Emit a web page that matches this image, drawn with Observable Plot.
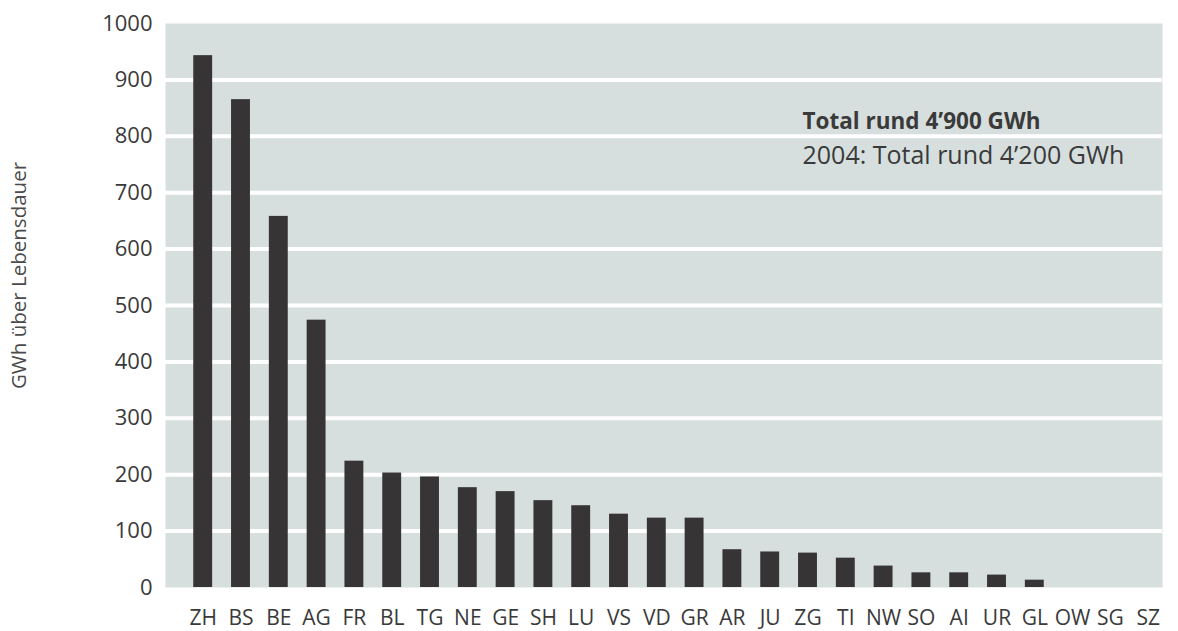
<!DOCTYPE html>
<html>
<head>
<meta charset="utf-8">
<script src="https://cdn.jsdelivr.net/npm/d3@7"></script>
<script src="https://cdn.jsdelivr.net/npm/@observablehq/plot@0.6"></script>
<style>
  html, body { margin: 0; padding: 0; background: #ffffff; }
  #chart svg { display: block; }
</style>
</head>
<body>
<div id="chart"></div>
<script>
const cantons = ["ZH","BS","BE","AG","FR","BL","TG","NE","GE","SH","LU","VS","VD","GR","AR","JU","ZG","TI","NW","SO","AI","UR","GL","OW","SG","SZ"];
const gwh = [943, 865, 658, 474, 224, 203, 196, 177, 170, 154, 145, 130, 123, 123, 67, 63, 61, 52, 38, 26, 26, 22, 13, 0, 0, 0];
const yTicks = [0, 100, 200, 300, 400, 500, 600, 700, 800, 900, 1000];
const gridTicks = [100, 200, 300, 400, 500, 600, 700, 800, 900];
const yTitle = "GWh über Lebensdauer";
const noteBold = "Total rund 4’900 GWh";
const noteRegular = "2004: Total rund 4’200 GWh";

const data = cantons.map((c, i) => ({canton: c, value: gwh[i]}));
const font = "'Open Sans', sans-serif";
const ink = "#3a3a3a";

const chart = Plot.plot({
  width: 1178,
  height: 631,
  marginLeft: 165,
  marginRight: 16,
  marginTop: 23,
  marginBottom: 44,
  style: {fontFamily: font, color: ink, background: "#ffffff"},
  x: {domain: cantons, paddingInner: 0.5, paddingOuter: 0, insetLeft: 28.25, insetRight: 4.85, round: false},
  y: {domain: [0, 1000]},
  marks: [
    Plot.frame({fill: "#d7dfde", stroke: null}),
    Plot.ruleY(gridTicks, {stroke: "#ffffff", strokeWidth: 4}),
    Plot.barY(data, {x: "canton", y: "value", fill: "#373435"}),
    Plot.axisY(yTicks, {tickSize: 0, tickPadding: 13, fontSize: 22, label: null, fill: ink, tickFormat: d => String(d)}),
    Plot.axisX({tickSize: 0, tickPadding: 23, fontSize: 21, label: null, fill: ink}),
    Plot.text([yTitle], {frameAnchor: "left", dx: -146, dy: -30, rotate: -90, fontSize: 20.5, fill: "#4a4a4a", textAnchor: "middle", lineAnchor: "middle"}),
    Plot.text([noteBold], {frameAnchor: "top-left", dx: 637, dy: 98, fontSize: 22.5, fontWeight: "bold", fill: ink, textAnchor: "start", lineAnchor: "middle"}),
    Plot.text([noteRegular], {frameAnchor: "top-left", dx: 637, dy: 132.5, fontSize: 25, fill: ink, textAnchor: "start", lineAnchor: "middle"})
  ]
});
document.getElementById("chart").appendChild(chart);
</script>
</body>
</html>
